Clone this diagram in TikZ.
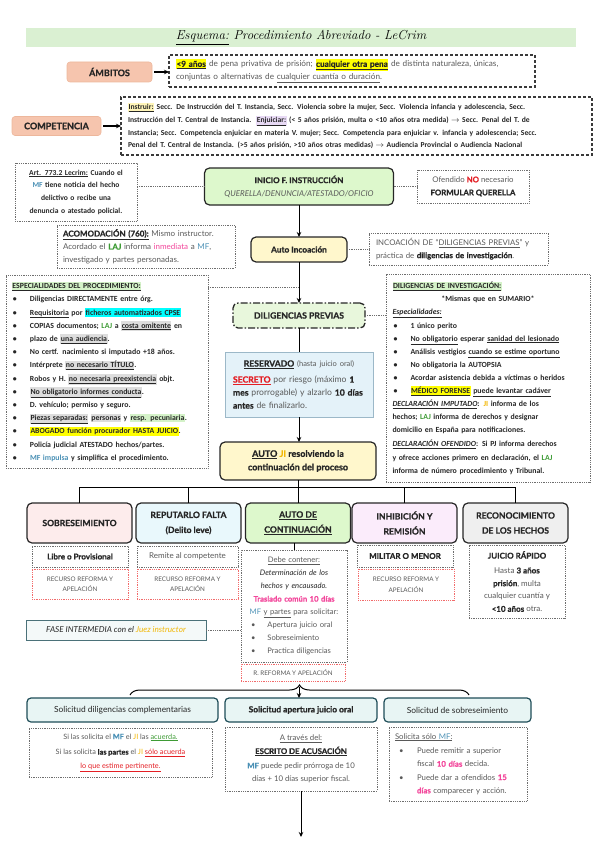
\documentclass[tikz,border=0pt]{standalone}
\usepackage{fontspec}
\setmainfont{Lato}[BoldFeatures={FakeBold=0.8}]
\newfontfamily\calfont{Carlito}
\usetikzlibrary{arrows.meta,decorations.pathreplacing}
\definecolor{titlebg}{HTML}{DAF0D2}
\definecolor{salmon}{HTML}{F6C5AE}
\definecolor{salmonb}{HTML}{EDB79C}
\definecolor{dashc}{HTML}{3A3A3A}
\definecolor{dotc}{HTML}{6E6E6E}
\definecolor{greenbg}{HTML}{DDF8CC}
\definecolor{yellowbg}{HTML}{FFF7CC}
\definecolor{dpbg}{HTML}{E8F7DC}
\definecolor{bluebg}{HTML}{E4F2F9}
\definecolor{blueb}{HTML}{9CB8C8}
\definecolor{pinkbg}{HTML}{FDECEC}
\definecolor{cyanbg}{HTML}{E9F8FC}
\definecolor{lavbg}{HTML}{FBECFB}
\definecolor{graybg}{HTML}{EFEFEF}
\definecolor{solbg}{HTML}{E8F5F4}
\definecolor{solb}{HTML}{1E4D58}
\definecolor{fasebg}{HTML}{F4F9F9}
\definecolor{reddot}{HTML}{F26B6B}
\definecolor{mfc}{HTML}{4A90B5}
\definecolor{lajc}{HTML}{3E9B35}
\definecolor{jic}{HTML}{F2B705}
\definecolor{pinkc}{HTML}{F2479B}
\definecolor{redc}{HTML}{E31E24}
\definecolor{txt}{HTML}{262626}
\definecolor{gtxt}{HTML}{595959}
\definecolor{hly}{HTML}{FFFF00}
\definecolor{hlc}{HTML}{00FFFF}
\definecolor{hlg}{HTML}{D4F2C8}
\definecolor{hlgray}{HTML}{DDDDDD}
\definecolor{hllav}{HTML}{E8DAF5}
\definecolor{hlly}{HTML}{FFF5B8}
\newcommand\hl[2]{\begingroup\setlength\fboxsep{0.5pt}\colorbox{#1}{\vphantom{Ág}#2}\endgroup}
\newcommand\jl[2]{\makebox[#1][s]{#2}}
\newcommand\bul[1]{\makebox[18pt][l]{\hspace{1pt}\textbullet}#1}
\tikzset{
  every node/.style={inner sep=0pt, outer sep=0pt},
  salbox/.style={draw=salmonb, fill=salmon, rounded corners=3pt, line width=0.6pt, font=\bfseries\fontsize{9}{11}\selectfont, text=txt},
  dashbox/.style={draw=dashc, line width=1.2pt, dash pattern=on 3pt off 2pt},
  dotbox/.style={draw=dotc, line width=0.6pt, dash pattern=on 0.8pt off 1pt},
  reddotbox/.style={draw=reddot, line width=0.6pt, dash pattern=on 0.8pt off 1pt},
  mainbox/.style={draw=black!85, line width=1.2pt, rounded corners=5pt},
  dotline/.style={draw=dotc, line width=0.6pt, dash pattern=on 0.8pt off 1pt},
  arr/.style={-{Stealth[length=5pt,width=4.5pt]}, line width=1pt},
  conn/.style={line width=1pt},
  fivebox/.style={mainbox, minimum width=105pt, minimum height=40pt, align=center, font=\bfseries\fontsize{8.6}{15}\selectfont, text=txt},
  solbox/.style={draw=solb, line width=1.2pt, rounded corners=4pt, fill=solbg, minimum height=24pt, font=\fontsize{8.4}{10}\selectfont, text=txt},
  recbox/.style={reddotbox, align=center, font=\fontsize{6.3}{10.5}\selectfont, text=gtxt}
}
\begin{document}
\begin{tikzpicture}[x=1pt,y=-1pt]
\useasboundingbox (0,0) rectangle (599,848);

% title
\node[fill=titlebg, minimum width=550pt, minimum height=19pt] (title) at (301,37.5)
  {\fontfamily{lmr}\selectfont\itshape\fontsize{13}{14}\selectfont \underline{Esquema:} Procedimiento Abreviado - LeCrim};

% ambitos
\node[salbox, minimum width=85pt, minimum height=20pt] (amb) at (109.5,72) {ÁMBITOS};
\node[dashbox, minimum width=366pt, minimum height=32pt, text width=352pt, align=left, font=\fontsize{8.2}{13}\selectfont, text=gtxt] (ambbox) at (352,71)
  {\hl{hly}{\color{txt}\textbf{\underline{<9 años}}} de pena privativa de prisión; \hl{hly}{\color{txt}\textbf{\underline{cualquier otra pena}}} de distinta naturaleza, únicas,\\
   conjuntas o alternativas de \underline{cualquier cuantía o duración}.};
\draw[arr, line width=1.5pt] ([xshift=2pt]amb.east) -- (ambbox.west |- amb.east);

% competencia
\node[salbox, minimum width=89pt, minimum height=19pt] (comp) at (56.5,126) {COMPETENCIA};
\node[dashbox, minimum width=471pt, minimum height=58pt, text width=457pt, align=left, font=\calfont\bfseries\fontsize{7.6}{12.7}\selectfont, text=txt] (compbox) at (356.5,126)
  {\jl{457pt}{\hl{hlly}{\underline{Instruir:}} Secc. De Instrucción del T. Instancia, Secc. Violencia sobre la mujer, Secc. Violencia infancia y adolescencia, Secc.}\\
   \jl{457pt}{Instrucción del T. Central de Instancia.\ \ \hl{hllav}{\underline{Enjuiciar:}} (< 5 años prisión, multa o <10 años otra medida) $\rightarrow$ Secc. Penal del T. de}\\
   \jl{457pt}{Instancia; Secc. Competencia enjuiciar en materia V. mujer; Secc. Competencia para enjuiciar v. infancia y adolescencia; Secc.}\\
   Penal del T. Central de Instancia. (>5 años prisión, >10 años otras medidas) $\rightarrow$ Audiencia Provincial o Audiencia Nacional};
\draw[arr, line width=1.5pt] ([xshift=2pt]comp.east) -- (compbox.west |- comp.east);

% art 773.2
\node[dotbox, minimum width=122pt, minimum height=58pt, text width=118pt, align=center, font=\calfont\bfseries\fontsize{7.6}{12.7}\selectfont, text=txt] (art) at (76,192)
  {\underline{Art. 773.2 Lecrim:} Cuando el\\ {\color{mfc}MF} tiene noticia del hecho\\ delictivo o recibe una\\ denuncia o atestado policial.};

% inicio
\node[mainbox, fill=greenbg, minimum width=189pt, minimum height=37pt, align=center, font=\fontsize{8}{13}\selectfont, text=txt] (inicio) at (299,186.5)
  {\textbf{INICIO F. INSTRUCCIÓN}\\ {\color{gtxt}\itshape QUERELLA/DENUNCIA/ATESTADO/OFICIO}};

% ofendido
\node[dotbox, minimum width=112pt, minimum height=33pt, align=center, font=\fontsize{7.8}{13}\selectfont, text=gtxt] (ofe) at (473,186.5)
  {Ofendido {\color{redc}\textbf{NO}} necesario\\ {\color{txt}\textbf{FORMULAR QUERELLA}}};
\draw[dotline] (art.east |- inicio.west) -- (inicio.west);
\draw[dotline] (inicio.east) -- (ofe.west);

% acomodacion
\node[dotbox, minimum width=178pt, minimum height=43pt, text width=166pt, align=left, font=\fontsize{8}{13}\selectfont, text=gtxt] (acom) at (146,246.5)
  {{\color{txt}\textbf{\underline{ACOMODACIÓN (760):}}} Mismo instructor.\\ Acordado el {\color{lajc}\textbf{LAJ}} informa {\color{pinkc}inmediata} a {\color{mfc}MF},\\ investigado y partes personadas.};

% auto incoacion
\node[mainbox, fill=yellowbg, minimum width=96pt, minimum height=25pt, font=\fontsize{8.3}{10}\selectfont, text=txt] (autoinc) at (299,249.5) {\textbf{Auto Incoación}};
\node[dotbox, minimum width=179pt, minimum height=32pt, text width=165pt, align=left, font=\fontsize{7.8}{12.5}\selectfont, text=gtxt] (incoac) at (458.5,249)
  {INCOACIÓN DE “\underline{DILIGENCIAS PREVIAS}” y\\ práctica de {\color{txt}\textbf{diligencias de investigación}}.};
\draw[dotline] (autoinc.east) -- (incoac.west |- autoinc.east);
\draw[arr] (inicio.south) -- (autoinc.north);

% especialidades
\node[dotbox, minimum width=202pt, minimum height=193pt, text width=190pt, align=left, font=\calfont\bfseries\fontsize{7.8}{13.2}\selectfont, text=txt] (esp) at (107,371.5)
  {\hl{hlg}{\underline{ESPECIALIDADES DEL PROCEDIMIENTO:}}\\
   \bul{Diligencias DIRECTAMENTE entre órg.}\\
   \bul{\underline{Requisitoria} por \hl{hlc}{ficheros automatizados CPSE}}\\
   \bul{COPIAS documentos; {\color{lajc}LAJ} a \hl{hlgray}{\underline{costa omitente}} en}\\
   \bul{}plazo de \hl{hlgray}{\underline{una audiencia}}.\\
   \bul{No certf. nacimiento si imputado +18 años.}\\
   \bul{Intérprete \hl{hlgray}{\underline{no necesario TÍTULO}}.}\\
   \bul{Robos y H. \hl{hlgray}{\underline{no necesaria preexistencia}} objt.}\\
   \bul{\hl{hlgray}{\underline{No obligatorio informes conducta}}.}\\
   \bul{D. vehículo; permiso y seguro.}\\
   \bul{\hl{hlgray}{\underline{Piezas separadas:}} \hl{hlgray}{personas} y \hl{hlg}{resp. pecuniaria}.}\\
   \bul{\hl{hly}{ABOGADO función procurador HASTA JUICIO}.}\\
   \bul{Policía judicial ATESTADO hechos/partes.}\\
   \bul{{\color{mfc}MF impulsa} y simplifica el procedimiento.}};

% diligencias de investigacion
\node[dotbox, minimum width=204pt, minimum height=208pt, text width=191pt, align=left, font=\calfont\bfseries\fontsize{7.8}{13.1}\selectfont, text=txt] (di) at (488,378)
  {\hl{hlg}{\underline{DILIGENCIAS DE INVESTIGACIÓN:}}\\
   \makebox[191pt][c]{*Mismas que en SUMARIO*}\\
   \textit{\underline{Especialidades:}}\\
   \bul{1 único perito}\\
   \bul{\underline{No obligatorio} esperar \underline{sanidad del lesionado}}\\
   \bul{Análisis vestigios \underline{cuando se estime oportuno}}\\
   \bul{No obligatoria la AUTOPSIA}\\
   \bul{Acordar asistencia debida a víctimas o heridos}\\
   \bul{\hl{hly}{\underline{MÉDICO FORENSE}} \underline{puede levantar cadáver}}\\
   \jl{191pt}{\textit{\underline{DECLARACIÓN IMPUTADO}}: {\color{jic}JI} informa de los}\\
   \jl{191pt}{hechos; {\color{lajc}LAJ} informa de derechos y designar}\\
   domicilio en España para notificaciones.\\[1pt]
   \jl{191pt}{\textit{\underline{DECLARACIÓN OFENDIDO}}: Si PJ informa derechos}\\
   \jl{191pt}{y ofrece acciones primero en declaración, el {\color{lajc}LAJ}}\\
   informa de número procedimiento y Tribunal.};

% diligencias previas
\node[draw=black!85, line width=1.3pt, dash pattern=on 7pt off 2pt on 1.5pt off 2pt, rounded corners=5pt, fill=dpbg, minimum width=132pt, minimum height=25pt, font=\fontsize{8.6}{10}\selectfont, text=txt] (dp) at (299,315.5) {\textbf{DILIGENCIAS PREVIAS}};
\draw[arr] (autoinc.south) -- (dp.north);
\coordinate (espj) at (299,287);
\draw[dotline] (esp.north east |- espj) -- (espj);
\draw[dotline] (dp.east) -- (dp.east -| di.west);

% reservado
\node[draw=blueb, line width=0.8pt, fill=bluebg, minimum width=148pt, minimum height=65pt, text width=132pt, align=left, font=\fontsize{8.6}{13}\selectfont, text=gtxt] (res) at (299,384.5)
  {\makebox[132pt][c]{{\color{txt}\textbf{\underline{RESERVADO}}} {\fontsize{7.5}{9}\selectfont(hasta juicio oral)}}\\[3pt]
   \jl{132pt}{{\color{redc}\textbf{\underline{SECRETO}}} por riesgo (máximo {\color{txt}\textbf{1}}}\\
   \jl{132pt}{{\color{txt}\textbf{mes}} prorrogable) y alzarlo {\color{txt}\textbf{10 días}}}\\
   {\color{txt}\textbf{antes}} de finalizarlo.};
\draw[conn] (dp.south) -- (res.north);

% auto
\node[mainbox, fill=yellowbg, minimum width=156pt, minimum height=38pt, align=center, font=\bfseries\fontsize{9}{13.5}\selectfont, text=txt] (auto) at (298,461)
  {\textbf{\underline{AUTO}} {\color{jic}JI} \textbf{resolviendo la}\\ \textbf{continuación del proceso}};
\draw[arr] (res.south) -- (res.south |- auto.north);

% five boxes
\node[fivebox, fill=pinkbg] (b1) at (79.5,523) {\textbf{SOBRESEIMIENTO}};
\node[fivebox, fill=cyanbg] (b2) at (188.5,523) {\textbf{REPUTARLO FALTA}\\\textbf{(Delito leve)}};
\node[fivebox, fill=greenbg] (b3) at (298,523) {\textbf{\underline{AUTO DE}}\\\textbf{\underline{CONTINUACIÓN}}};
\node[fivebox, fill=lavbg] (b4) at (404.5,523) {\textbf{INHIBICIÓN Y}\\\textbf{REMISIÓN}};
\node[fivebox, fill=graybg] (b5) at (515.5,523) {\textbf{RECONOCIMIENTO}\\\textbf{DE LOS HECHOS}};
\coordinate (bus) at (298,487);
\draw[conn] (auto.south) -- (auto.south |- bus);
\draw[conn] (b1.north) -- (b1.north |- bus) -- (b5.north |- bus) -- (b5.north);
\draw[conn] (b2.north) -- (b2.north |- bus);
\draw[conn] (b3.north) -- (b3.north |- bus);
\draw[conn] (b4.north) -- (b4.north |- bus);

% sub boxes
\node[dotbox, minimum width=96pt, minimum height=21pt, font=\fontsize{8}{10}\selectfont, text=txt] (libre) at (80,556.5) {\textbf{Libre o Provisional}};
\node[recbox, minimum width=96pt, minimum height=30pt] (rec1) at (80,584) {RECURSO REFORMA Y\\APELACIÓN};
\node[dotbox, minimum width=101pt, minimum height=21pt, font=\fontsize{8}{10}\selectfont, text=gtxt] (remite) at (187.5,556.5) {Remite al competente};
\node[recbox, minimum width=101pt, minimum height=30pt] (rec2) at (187.5,584) {RECURSO REFORMA Y\\APELACIÓN};
\node[dotbox, minimum width=96pt, minimum height=22pt, font=\fontsize{8}{10}\selectfont, text=txt] (militar) at (405,556) {\textbf{MILITAR O MENOR}};
\node[recbox, minimum width=96pt, minimum height=31pt] (rec3) at (406,584.5) {RECURSO REFORMA Y\\APELACIÓN};
\node[dotbox, minimum width=96pt, minimum height=73pt, align=center, font=\fontsize{8}{12.8}\selectfont, text=gtxt] (juicio) at (517,581.5)
  {{\color{txt}\textbf{JUICIO RÁPIDO}}\\[2pt] Hasta {\color{txt}\textbf{3 años}}\\ {\color{txt}\textbf{prisión}}, multa\\ cualquier cuantía y\\ {\color{txt}\textbf{<10 años}} otra.};

% auto de continuacion content
\node[dotbox, minimum width=106pt, minimum height=112pt, text width=100pt, align=center, font=\fontsize{7.6}{13}\selectfont, text=gtxt] (contsub) at (294,606)
  {\underline{Debe contener:}\\
   {\color{txt}\textit{Determinación de los}}\\
   {\color{txt}\textit{hechos y encausado.}}\\
   {\color{pinkc}\textbf{Traslado común 10 días}}\\
   {\color{mfc}MF} \underline{y partes} para solicitar:\\
   \makebox[100pt][l]{\hspace{7pt}\textbullet\hspace{12pt}Apertura juicio oral}\\
   \makebox[100pt][l]{\hspace{7pt}\textbullet\hspace{12pt}Sobreseimiento}\\
   \makebox[100pt][l]{\hspace{7pt}\textbullet\hspace{12pt}Practica diligencias}};
\draw[conn] (contsub.north |- b3.south) -- (contsub.north);

% fase intermedia
\node[draw=solb!80, line width=0.7pt, fill=fasebg, minimum width=180pt, minimum height=20pt, font=\itshape\fontsize{8.2}{10}\selectfont, text=txt] (fase) at (116,630) {FASE INTERMEDIA con el {\color{jic}Juez instructor}};
\draw[dotline] (fase.east) -- (fase.east -| contsub.west);

% r reforma
\node[reddotbox, minimum width=104pt, minimum height=17pt, font=\fontsize{6.3}{8}\selectfont, text=gtxt] (rref) at (293,672.5) {R. REFORMA Y APELACIÓN};

% solicitudes
\node[solbox, minimum width=191pt] (sol1) at (122.5,710) {Solicitud diligencias complementarias};
\node[solbox, minimum width=152pt] (sol2) at (301,710) {\textbf{Solicitud apertura juicio oral}};
\node[solbox, minimum width=147pt] (sol3) at (457.5,710) {Solicitud de sobreseimiento};
\coordinate (bl) at (130,695);
\coordinate (br) at (469,695);
\coordinate (bm) at (299,687);
\draw[conn, decorate, decoration={brace, amplitude=10pt}] (bl) -- (br);
\draw[arr] (bm) -- (bm |- sol2.north);

% sub solicitudes
\node[dotbox, minimum width=183pt, minimum height=49pt, align=center, font=\fontsize{7.3}{13.5}\selectfont, text=gtxt] (solA) at (120.5,752.5)
  {Si las solicita el {\color{mfc}\textbf{MF}} el {\color{jic}JI} las {\color{lajc}\underline{acuerda.}}\\[2pt]
   Si las solicita {\color{txt}\textbf{las partes}} el {\color{jic}JI} {\color{redc}\underline{sólo acuerda}}\\
   {\color{redc}\underline{lo que estime pertinente.}}};
\node[dotbox, minimum width=152pt, minimum height=64pt, align=center, font=\fontsize{7.8}{13.5}\selectfont, text=gtxt] (solB) at (301,759)
  {\underline{A través del:}\\
   {\color{txt}\textbf{\underline{ESCRITO DE ACUSACIÓN}}}\\[1pt]
   {\color{mfc}\textbf{MF}} puede pedir prórroga de 10\\
   días + 10 días superior fiscal.};
\node[dotbox, minimum width=138pt, minimum height=74pt, text width=126pt, align=left, font=\fontsize{7.8}{13.3}\selectfont, text=gtxt] (solC) at (458,764)
  {\underline{Solicita sólo {\color{mfc}MF}:}\\[1pt]
   \makebox[22pt][l]{\hspace{4pt}\textbullet}Puede remitir a superior\\
   \makebox[22pt][l]{}fiscal {\color{pinkc}\textbf{10 días}} decida.\\
   \makebox[22pt][l]{\hspace{4pt}\textbullet}Puede dar a ofendidos {\color{pinkc}\textbf{15}}\\
   \makebox[22pt][l]{}{\color{pinkc}\textbf{días}} comparecer y acción.};
\coordinate (endp) at (301,837);
\draw[arr] (solB.south) -- (endp);
\end{tikzpicture}
\end{document}
